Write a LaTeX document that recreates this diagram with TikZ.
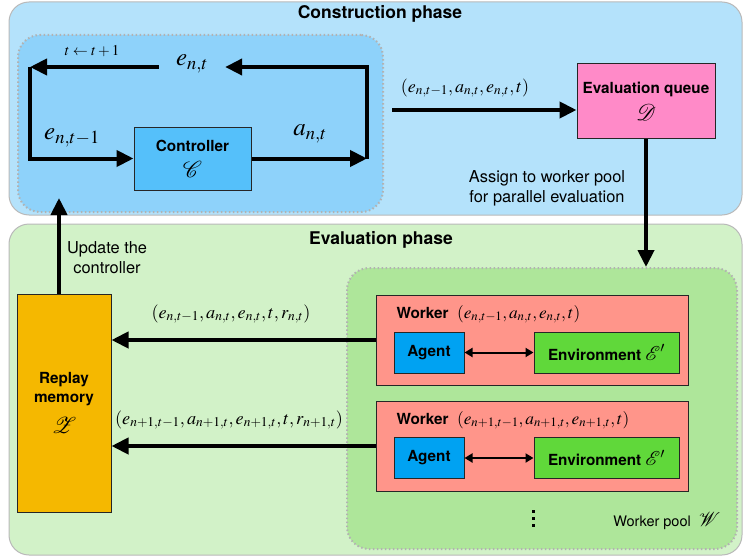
\documentclass[tikz,border=0pt]{standalone}
\usepackage{amsmath}
\usepackage{mathptmx}
\usepackage{fontspec}
\setmainfont{TeX Gyre Heros}
\usetikzlibrary{positioning}
\usetikzlibrary{calc,arrows.meta}

\definecolor{ConstrOuter}{HTML}{B4E2FB}
\definecolor{ConstrInner}{HTML}{8ED2FA}
\definecolor{CtrlBlue}{HTML}{55C0FA}
\definecolor{QueuePink}{HTML}{FF8AC8}
\definecolor{EvalOuter}{HTML}{D2F2C8}
\definecolor{PoolGreen}{HTML}{AEE69A}
\definecolor{WorkerRed}{HTML}{FF958A}
\definecolor{AgentBlue}{HTML}{00A2F2}
\definecolor{EnvGreen}{HTML}{60D83A}
\definecolor{ReplayOrange}{HTML}{F5B800}

\newcommand{\calsym}[1]{{\fontsize{23}{23}\selectfont$\mathcal{#1}$}}

\tikzset{
	phase/.style={draw=gray!55, line width=1pt, rounded corners=20pt},
	dotbox/.style={draw=gray!60, line width=2pt, dash pattern=on 1.5pt off 2.5pt, rounded corners=22pt, inner sep=0pt},
	block/.style={draw=black!85, line width=1pt, align=center, inner sep=0pt, font=\fontsize{15.3}{19}\selectfont\bfseries},
	phasetitle/.style={font=\fontsize{17.5}{20}\selectfont\bfseries},
	note/.style={align=center, font=\fontsize{16.4}{20}\selectfont},
	bigarrow/.style={line width=4pt, -{Triangle[length=17pt,width=16pt]}},
	smallarrow/.style={line width=2pt, {Triangle[length=8pt,width=9pt]}-{Triangle[length=8pt,width=9pt]}},
}

\begin{document}
\begin{tikzpicture}[x=1pt,y=-1pt]
	
	\useasboundingbox (0,0) rectangle (743,559);
	
	% the two phases
	\draw[phase, fill=ConstrOuter] (9,2) rectangle (742,215);
	\draw[phase, fill=EvalOuter] (9,224) rectangle (742,555);
	
	\node[phasetitle] (TC) at (380,14) {Construction phase};
	\node[phasetitle] (TE) at (381,240) {Evaluation phase};
	
	% dotted groups
	\node[dotbox, fill=ConstrInner, minimum width=365pt, minimum height=177pt] (LOOP) at (200.5,123.5) {};
	\node[dotbox, fill=PoolGreen, minimum width=390pt, minimum height=281pt] (POOL) at (542,408.5) {};
	
	%%%%%%%%%%%%%%%%%%%%%%%%%%%%%%%%%%%%%%%%%%%%%%%%%%%%%%%%%%%%%%
	% Construction phase
	
	\node[block, fill=CtrlBlue, minimum width=117pt, minimum height=63pt] (CTRL) at (192.5,158.5) {Controller\\[7pt] \calsym{C}};
	\node[block, fill=QueuePink, minimum width=138pt, minimum height=74pt] (QUEUE) at (646,101) {Evaluation queue\\[7pt] \calsym{D}};
	
	% corners of the loop
	\coordinate (TL) at (30,67);
	\coordinate (TR) at (367,67);
	\coordinate (BL) at (30,158.5);
	\coordinate (BR) at (367,158.5);
	
	\node[inner xsep=17pt, font=\fontsize{25}{25}\selectfont] (ENT) at (192,64) {$e_{n,t}$};
	
	\draw[bigarrow] (CTRL.east) -- (BR);
	\draw[bigarrow] (BR) -- (TR) -- (ENT.east |- TR);
	\draw[bigarrow] (ENT.west |- TL) -- (TL);
	\draw[bigarrow] (TL) -- (BL) -- (CTRL.west);
	
	\node[font=\fontsize{15}{15}\selectfont] (STEP) at (92,51) {$t \leftarrow t+1$};
	\node[font=\fontsize{25}{25}\selectfont] (EPREV) at (72,138) {$e_{n,t-1}$};
	\node[font=\fontsize{25}{25}\selectfont] (ACT) at (310,134) {$a_{n,t}$};
	
	% to the evaluation queue
	\coordinate (QT) at (392,110);
	\draw[bigarrow] (QT) -- (QT -| QUEUE.west);
	\node[font=\fontsize{18}{18}\selectfont] (TUP) at (465,88) {$(e_{n,t-1}, a_{n,t}, e_{n,t}, t)$};
	
	\draw[bigarrow] (QUEUE.south) -- (QUEUE.south |- POOL.north);
	\node[note] (ASSIGN) at (547,188) {Assign to worker pool\\for parallel evaluation};
	
	%%%%%%%%%%%%%%%%%%%%%%%%%%%%%%%%%%%%%%%%%%%%%%%%%%%%%%%%%%%%%%
	% Evaluation phase
	
	\node[block, fill=ReplayOrange, minimum width=94pt, minimum height=218pt] (REPLAY) at (64,403) {Replay\\memory\\[11pt] \calsym{Z}};
	
	\coordinate (UP) at (59,198);
	\draw[bigarrow] (UP |- REPLAY.north) -- (UP);
	\node[note] (UPD) at (107,258) {Update the\\controller};
	
	% workers
	\node[block, fill=WorkerRed, minimum width=312pt, minimum height=90pt] (W1) at (532,340) {};
	\node[block, fill=WorkerRed, minimum width=312pt, minimum height=90pt] (W2) at (532,446) {};
	
	\node[block, fill=AgentBlue, minimum width=70pt, minimum height=41pt] (A1) at (429,352.5) {Agent};
	\node[block, fill=EnvGreen, minimum width=145pt, minimum height=41pt] (E1) at (606.5,352.5) {Environment\ {\fontsize{20}{20}\selectfont$\mathcal{E}'$}};
	\node[block, fill=AgentBlue, minimum width=70pt, minimum height=41pt] (A2) at (429,458) {Agent};
	\node[block, fill=EnvGreen, minimum width=145pt, minimum height=41pt] (E2) at (606.5,458) {Environment\ {\fontsize{20}{20}\selectfont$\mathcal{E}'$}};
	
	\node[anchor=base west, font=\fontsize{15.3}{19}\selectfont\bfseries] (WT1) at (393,318) {Worker\ \ \mdseries\fontsize{17.3}{19}\selectfont$(e_{n,t-1}, a_{n,t}, e_{n,t}, t)$};
	\node[anchor=base west, font=\fontsize{15.3}{19}\selectfont\bfseries] (WT2) at (393,424) {Worker\ \ \mdseries\fontsize{17.3}{19}\selectfont$(e_{n+1,t-1}, a_{n+1,t}, e_{n+1,t}, t)$};
	
	\draw[smallarrow] (A1) -- (E1);
	\draw[smallarrow] (A2) -- (E2);
	
	% results back to the replay memory
	\draw[bigarrow] (W1.west) -- (W1.west -| REPLAY.east);
	\draw[bigarrow] (W2.west) -- (W2.west -| REPLAY.east);
	\node[font=\fontsize{18.2}{19}\selectfont] (RES1) at (231,314) {$(e_{n,t-1}, a_{n,t}, e_{n,t}, t, r_{n,t})$};
	\node[font=\fontsize{18.2}{19}\selectfont] (RES2) at (229,420) {$(e_{n+1,t-1}, a_{n+1,t}, e_{n+1,t}, t, r_{n+1,t})$};
	
	% the dots below the workers
	\fill (531.5,509.5) rectangle (535,513);
	\fill (531.5,516.5) rectangle (535,520);
	\fill (531.5,523.5) rectangle (535,527);
	\node[anchor=east, font=\fontsize{14.5}{17}\selectfont] (POOLT) at (724,521) {Worker pool\ \ {\fontsize{20}{20}\selectfont$\mathcal{W}$}};
	
\end{tikzpicture}
\end{document}
